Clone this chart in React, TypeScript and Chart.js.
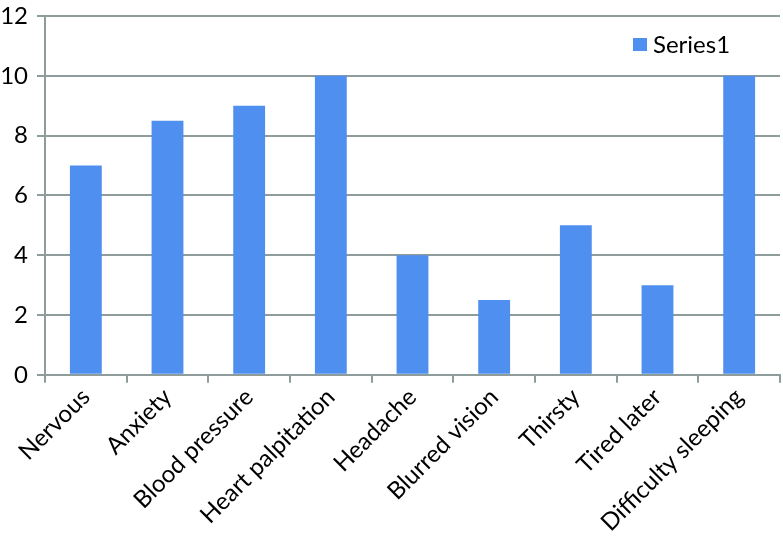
import React, { useEffect, useRef } from "react";
import { Chart, registerables } from "chart.js";

Chart.register(...registerables);

const categories = [
  "Nervous",
  "Anxiety",
  "Blood pressure",
  "Heart palpitation",
  "Headache",
  "Blurred vision",
  "Thirsty",
  "Tired later",
  "Difficulty sleeping",
];
const series1 = [7, 8.5, 9, 10, 4, 2.5, 5, 3, 10];
const seriesLabel = "Series1";
const yMin = 0;
const yMax = 12;
const yStep = 2;

const BAR = "#4F8FEF";
const GRID = "#8E9C9C";
const FONT = "Lato, 'Open Sans', sans-serif";
const FS = 24;

const insideLegend = {
  id: "insideLegend",
  afterDraw(chart: any) {
    const { ctx, chartArea } = chart;
    const ds = chart.data.datasets[0];
    ctx.save();
    const x = chartArea.right - 147;
    const y = chartArea.top + 28;
    ctx.fillStyle = ds.backgroundColor;
    ctx.fillRect(x, y - 6, 14, 13);
    ctx.fillStyle = "#000";
    ctx.font = `${FS}px ${FONT}`;
    ctx.textBaseline = "middle";
    ctx.textAlign = "left";
    ctx.fillText(ds.label, x + 20, y + 1);
    ctx.restore();
  },
};

export default function App() {
  const ref = useRef<HTMLCanvasElement>(null);
  useEffect(() => {
    document.body.style.margin = "0";
    const chart = new Chart(ref.current!, {
      type: "bar",
      data: {
        labels: categories,
        datasets: [
          {
            label: seriesLabel,
            data: series1,
            backgroundColor: BAR,
            categoryPercentage: 1,
            barPercentage: 0.39,
          },
        ],
      },
      options: {
        animation: false,
        responsive: false,
        maintainAspectRatio: false,
        layout: { padding: { top: 0, right: 3, left: 0, bottom: 3 } },
        plugins: { legend: { display: false }, tooltip: { enabled: false } },
        scales: {
          x: {
            grid: {
              drawOnChartArea: false,
              drawTicks: true,
              tickLength: 8,
              color: GRID,
              lineWidth: 2,
              offset: true,
            },
            border: { color: GRID, width: 2 },
            ticks: {
              color: "#000",
              font: { family: FONT, size: FS },
              maxRotation: 45,
              minRotation: 45,
              autoSkip: false,
              padding: 0,
            },
          },
          y: {
            min: yMin,
            max: yMax,
            afterFit(scale: any) {
              scale.width = 45;
              scale.paddingTop = 16;
            },
            ticks: {
              stepSize: yStep,
              color: "#000",
              font: { family: FONT, size: FS },
              padding: 9,
            },
            grid: { color: GRID, lineWidth: 2, tickLength: 8 },
            border: { color: GRID, width: 2 },
          },
        },
      },
      plugins: [insideLegend],
    });
    return () => chart.destroy();
  }, []);
  return (
    <div style={{ width: 783, height: 540 }}>
      <canvas ref={ref} width={783} height={540} style={{ display: "block" }} />
    </div>
  );
}
